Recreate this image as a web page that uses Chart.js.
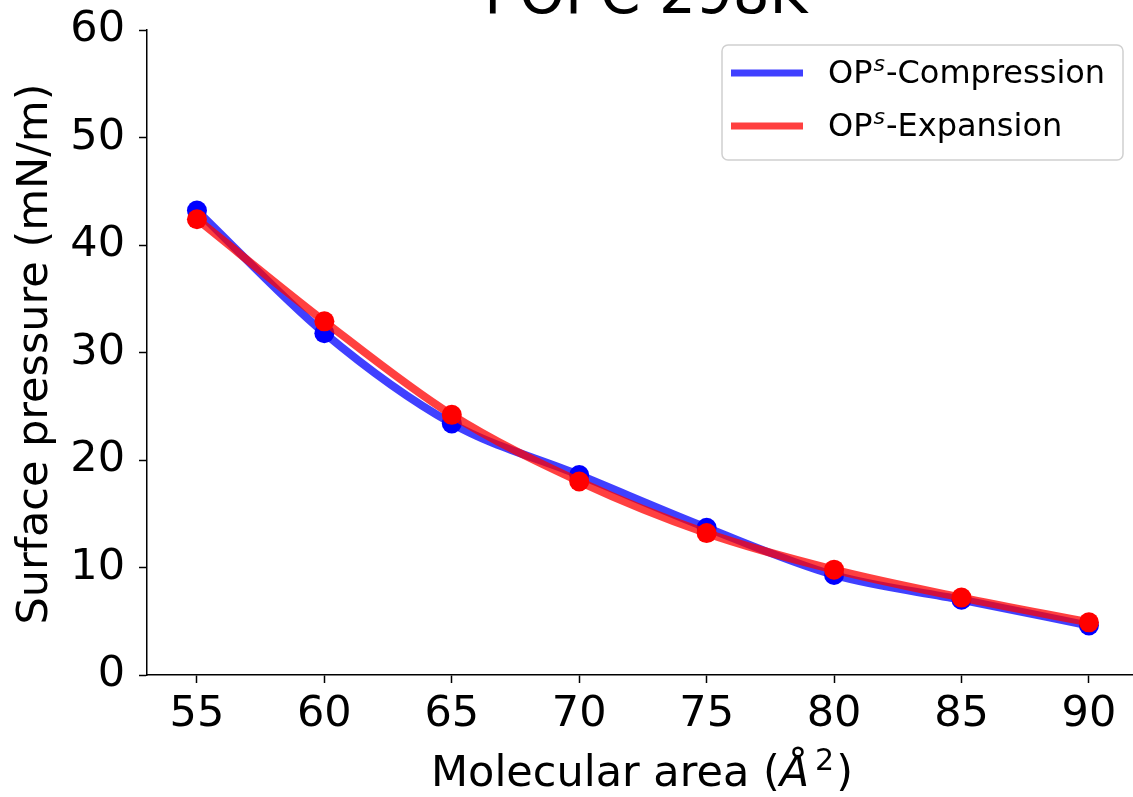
<!DOCTYPE html>
<html>
<head>
<meta charset="utf-8">
<script src="https://cdn.jsdelivr.net/npm/chart.js@4.4.1/dist/chart.umd.min.js"></script>
<style>
  html, body { margin:0; padding:0; background:#fff; }
  #wrap { width:1133px; height:797px; }
</style>
</head>
<body>
<div id="wrap"><canvas id="chart" width="1133" height="797"></canvas></div>
<script>
// data
var areas       = [55, 60, 65, 70, 75, 80, 85, 90];
var compression = [43.2, 31.8, 23.4, 18.6, 13.7, 9.3, 7.0, 4.6];
var expansion   = [42.4, 32.9, 24.2, 18.0, 13.2, 9.8, 7.2, 4.9];
var xTicks      = [55, 60, 65, 70, 75, 80, 85, 90];
var yTicks      = [0, 10, 20, 30, 40, 50, 60];

var FONT = '"DejaVu Sans", sans-serif';

function pts(ys){ return areas.map(function(x, i){ return { x: x, y: ys[i] }; }); }
function noPad(s){ s.paddingLeft = 0; s.paddingRight = 0; s.paddingTop = 0; s.paddingBottom = 0; }

// title, axis labels and legend drawn by hand (matplotlib-like placement)
var decor = {
  id: 'decor',
  afterDraw: function(chart){
    var ctx = chart.ctx;
    ctx.save();
    ctx.fillStyle = '#000';

    // title (cut off at top like the reference)
    ctx.font = '58px ' + FONT;
    ctx.textAlign = 'center';
    ctx.textBaseline = 'alphabetic';
    ctx.fillText('POPC 298K', 646, 13);

    // y title
    ctx.save();
    ctx.translate(36, 354);
    ctx.rotate(-Math.PI / 2);
    ctx.font = '43px ' + FONT;
    ctx.textAlign = 'center';
    ctx.textBaseline = 'middle';
    ctx.fillText('Surface pressure (mN/m)', 0, 0);
    ctx.restore();

    // x title: Molecular area (Å^2)
    var parts = [
      { t: 'Molecular area (', f: '43px ' + FONT, dy: 0 },
      { t: 'Å', f: 'italic 43px ' + FONT, dy: 0 },
      { t: '2', f: '30px ' + FONT, dy: -16, pre: 6 },
      { t: ')', f: '43px ' + FONT, dy: 0, pre: 2 }
    ];
    var total = 0;
    parts.forEach(function(p){ ctx.font = p.f; p.w = ctx.measureText(p.t).width; total += p.w + (p.pre || 0); });
    var x = 642 - total / 2, base = 786;
    ctx.textAlign = 'left';
    parts.forEach(function(p){
      x += (p.pre || 0);
      ctx.font = p.f;
      ctx.fillText(p.t, x, base + p.dy);
      x += p.w;
    });

    // legend
    var lx = 722, ly = 45, lw = 401, lh = 115, r = 6;
    ctx.beginPath();
    ctx.moveTo(lx + r, ly);
    ctx.arcTo(lx + lw, ly, lx + lw, ly + lh, r);
    ctx.arcTo(lx + lw, ly + lh, lx, ly + lh, r);
    ctx.arcTo(lx, ly + lh, lx, ly, r);
    ctx.arcTo(lx, ly, lx + lw, ly, r);
    ctx.closePath();
    ctx.fillStyle = 'rgba(255,255,255,0.8)';
    ctx.fill();
    ctx.strokeStyle = '#d0d0d0';
    ctx.lineWidth = 1.5;
    ctx.stroke();

    var items = [
      { c: 'rgba(0,0,255,0.75)', label: '-Compression', y: 73 },
      { c: 'rgba(255,0,0,0.75)', label: '-Expansion',   y: 126 }
    ];
    items.forEach(function(it){
      ctx.strokeStyle = it.c;
      ctx.lineWidth = 7;
      ctx.lineCap = 'butt';
      ctx.beginPath();
      ctx.moveTo(731, it.y);
      ctx.lineTo(803, it.y);
      ctx.stroke();

      ctx.fillStyle = '#000';
      ctx.textBaseline = 'middle';
      var tx = 828;
      ctx.font = '32px ' + FONT;
      ctx.fillText('OP', tx, it.y + 2);
      tx += ctx.measureText('OP').width + 1;
      ctx.font = 'italic 22px ' + FONT;
      ctx.fillText('s', tx, it.y - 8);
      tx += ctx.measureText('s').width + 1;
      ctx.font = '32px ' + FONT;
      ctx.fillText(it.label, tx, it.y + 2);
    });
    ctx.restore();
  }
};

new Chart(document.getElementById('chart'), {
  type: 'line',
  data: {
    datasets: [
      {
        label: 'OPs-Compression',
        data: pts(compression),
        borderColor: 'rgba(0,0,255,0.75)',
        backgroundColor: '#0000ff',
        pointBackgroundColor: '#0000ff',
        pointBorderWidth: 0,
        pointRadius: 10,
        borderWidth: 8,
        cubicInterpolationMode: 'monotone',
        order: 2
      },
      {
        label: 'OPs-Expansion',
        data: pts(expansion),
        borderColor: 'rgba(255,0,0,0.75)',
        backgroundColor: '#ff0000',
        pointBackgroundColor: '#ff0000',
        pointBorderWidth: 0,
        pointRadius: 10,
        borderWidth: 8,
        cubicInterpolationMode: 'monotone',
        order: 1
      }
    ]
  },
  options: {
    responsive: false,
    animation: false,
    layout: { autoPadding: false, padding: { top: 30, right: 0, left: 0, bottom: 0 } },
    plugins: { legend: { display: false }, tooltip: { enabled: false }, title: { display: false } },
    scales: {
      x: {
        type: 'linear',
        min: 53.04, max: 91.73,
        afterBuildTicks: function(s){ s.ticks = xTicks.map(function(v){ return { value: v }; }); },
        afterFit: function(s){ s.height = 122; noPad(s); },
        grid: { drawOnChartArea: false, drawTicks: true, tickLength: 8, tickColor: '#000', tickWidth: 1.5 },
        border: { color: '#000', width: 1.5 },
        ticks: { color: '#000', font: { family: FONT, size: 43 }, padding: 6, maxRotation: 0, autoSkip: false }
      },
      y: {
        min: 0, max: 60,
        afterBuildTicks: function(s){ s.ticks = yTicks.map(function(v){ return { value: v }; }); },
        afterFit: function(s){ s.width = 147; noPad(s); },
        grid: { drawOnChartArea: false, drawTicks: true, tickLength: 8, tickColor: '#000', tickWidth: 1.5 },
        border: { color: '#000', width: 1.5 },
        ticks: { color: '#000', font: { family: FONT, size: 43 }, padding: 14 }
      }
    }
  },
  plugins: [decor]
});
</script>
</body>
</html>
